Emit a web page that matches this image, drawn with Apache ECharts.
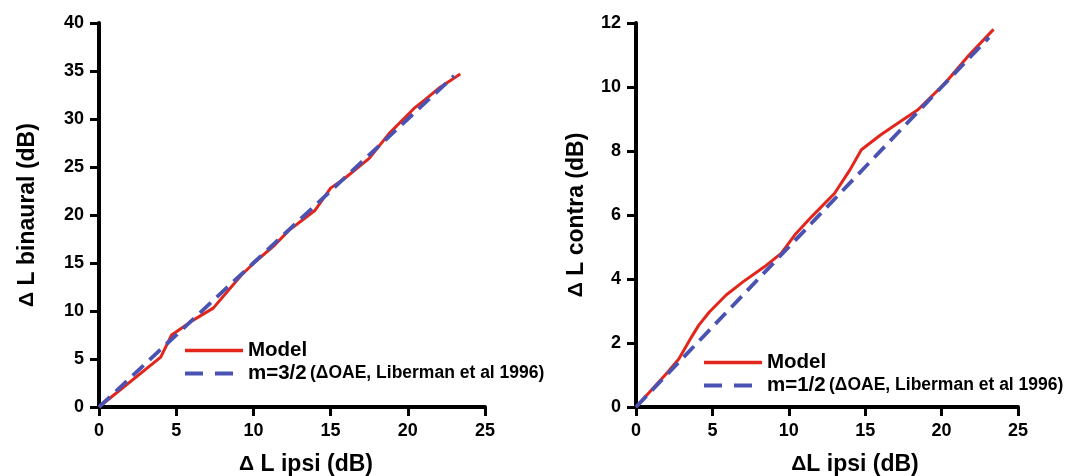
<!DOCTYPE html>
<html>
<head>
<meta charset="utf-8">
<script src="https://cdn.jsdelivr.net/npm/echarts@6/dist/echarts.min.js"></script>
<style>
  html, body { margin: 0; padding: 0; background: #fff; }
  #chart { width: 1070px; height: 476px; }
</style>
</head>
<body>
<div id="chart"></div>
<script>
// left panel: binaural vs ipsi
const binauralModel = [
  [0, 0], [4.0, 5.2], [4.7, 7.5], [5.6, 8.5], [6.05, 9.0], [7.4, 10.3], [9.2, 13.7],
  [10.1, 15.1], [11.4, 16.9], [12.3, 18.4], [13.2, 19.5], [14.0, 20.5], [15.0, 22.8],
  [15.9, 23.8], [17.5, 25.9], [18.8, 28.5], [20.4, 31.1], [21.1, 32.0], [22.0, 33.2], [23.4, 34.7]
]
const binauralRef = [[0, 0], [5, 7.5], [10, 15], [15, 22.5], [20, 30], [23, 34.5]]

// right panel: contra vs ipsi
const contraModel = [
  [0, 0], [2.1, 1.1], [2.8, 1.5], [3.65, 2.2], [4.1, 2.55], [4.8, 2.97], [5.9, 3.5],
  [7.0, 3.91], [8.4, 4.38], [9.5, 4.8], [10.4, 5.38], [11.5, 5.95], [13.0, 6.68],
  [14.0, 7.41], [14.75, 8.04], [16.0, 8.5], [17.3, 8.92], [18.45, 9.29], [19.35, 9.71],
  [20.25, 10.13], [21.8, 11.0], [23.4, 11.8]
]
const contraRef = [[0, 0], [5, 2.5], [10, 5], [15, 7.5], [20, 10], [23.1, 11.55]]

const legendNames = ['Model', 'm=3/2', 'm=1/2']
const xTicks = { min: 0, max: 25, interval: 5 }

const font = '"Liberation Sans", Arial, Helvetica, sans-serif'
const red = '#e2261c'
const blue = '#4a52b2'

// the delta sign is set a bit smaller than the rest of the axis title
const nameRich = {
  d: { fontSize: 21, fontWeight: 'bold', fontFamily: font, color: '#000' }
}

const axisBase = (extra, shift) => Object.assign({
  type: 'value',
  splitLine: { show: false },
  axisLine: { show: true, onZero: false, lineStyle: { color: '#000', width: 4 } },
  axisTick: { show: true, length: 9, lineStyle: { color: '#000', width: 3 } },
  axisLabel: { color: '#000', fontSize: 18, fontWeight: 'bold', fontFamily: font, margin: 15 },
  nameLocation: 'middle',
  nameTextStyle: {
    color: '#000', fontSize: 23, fontWeight: 'bold', fontFamily: font, rich: nameRich,
    padding: shift ? [0, 0, 0, shift] : 0
  }
}, extra)

const legendRich = {
  a: { fontSize: 20.5, fontWeight: 'bold', fontFamily: font, color: '#000' },
  b: { fontSize: 17.5, fontWeight: 'bold', fontFamily: font, color: '#000' }
}
const legendFmt = (name) => name === 'Model'
  ? '{a|Model}'
  : '{a|' + name + '} {b|(\u0394OAE, Liberman et al 1996)}'

const lineSeries = (name, data, xi, yi, dashed) => ({
  name,
  type: 'line',
  xAxisIndex: xi,
  yAxisIndex: yi,
  data,
  symbol: 'none',
  smooth: false,
  silent: true,
  animation: false,
  lineStyle: dashed
    ? { color: blue, width: 3.8, type: [15, 8] }
    : { color: red, width: 3 },
  itemStyle: { color: dashed ? blue : red }
})

const legendBase = (names, left, top) => ({
  data: [
    { name: names[0], lineStyle: { width: 3.5, type: 'solid' } },
    { name: names[1], lineStyle: { width: 4, type: [18, 12] } }
  ],
  orient: 'vertical', left, top, padding: 0,
  itemWidth: 58, itemHeight: 16, itemGap: 2,
  itemStyle: { opacity: 0 },
  formatter: legendFmt, textStyle: { rich: legendRich }, selectedMode: false
})

const chart = echarts.init(document.getElementById('chart'))
chart.setOption({
  backgroundColor: '#fff',
  animation: false,
  grid: [
    { left: 99, top: 23, width: 386, height: 384, outerBoundsMode: 'none', containLabel: false },
    { left: 636, top: 23, width: 382, height: 384, outerBoundsMode: 'none', containLabel: false }
  ],
  xAxis: [
    axisBase(Object.assign({ gridIndex: 0, name: '{d|\u0394} L ipsi (dB)', nameGap: 46 }, xTicks), 28),
    axisBase(Object.assign({ gridIndex: 1, name: '{d|\u0394}L ipsi (dB)', nameGap: 46 }, xTicks), 56)
  ],
  yAxis: [
    axisBase({ gridIndex: 0, min: 0, max: 40, interval: 5, name: '{d|\u0394} L binaural (dB)', nameGap: 60 }),
    axisBase({ gridIndex: 1, min: 0, max: 12, interval: 2, name: '{d|\u0394} L contra (dB)', nameGap: 48 })
  ],
  legend: [
    legendBase([legendNames[0], legendNames[1]], 183, 340),
    legendBase([legendNames[0], legendNames[2]], 702, 352)
  ],
  series: [
    lineSeries(legendNames[0], binauralModel, 0, 0, false),
    lineSeries(legendNames[1], binauralRef, 0, 0, true),
    lineSeries(legendNames[0], contraModel, 1, 1, false),
    lineSeries(legendNames[2], contraRef, 1, 1, true)
  ]
})
</script>
</body>
</html>
